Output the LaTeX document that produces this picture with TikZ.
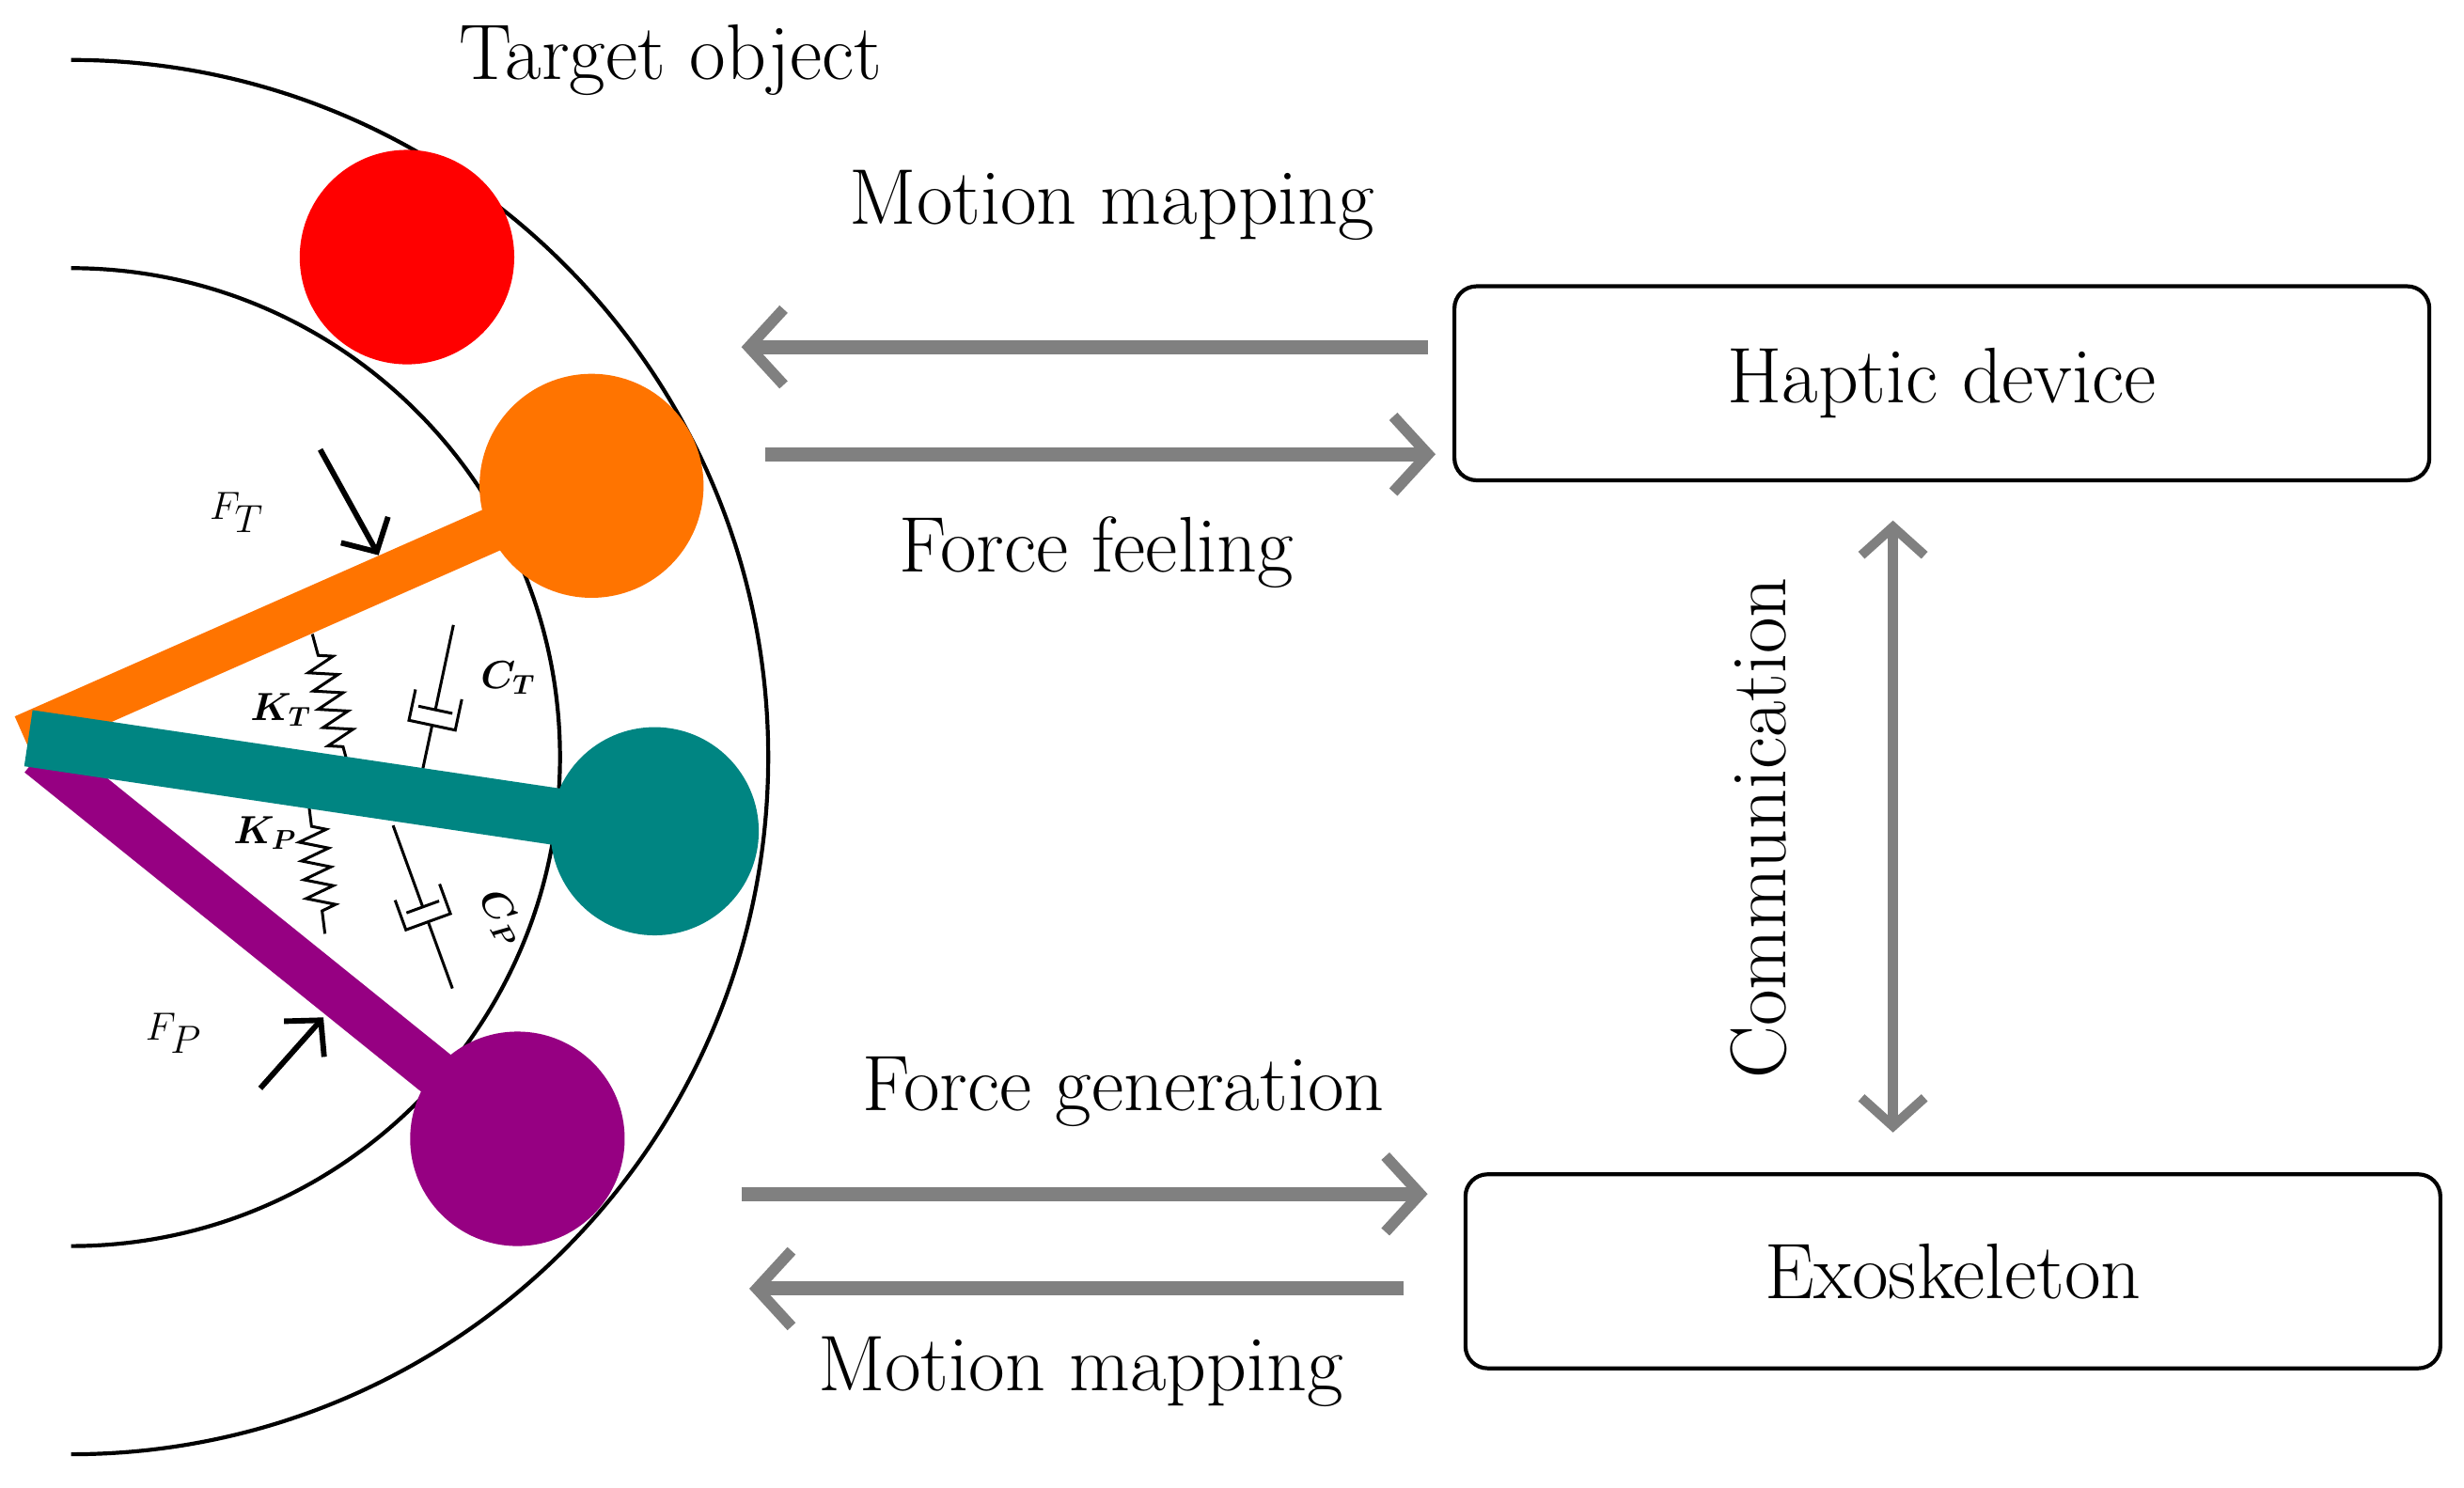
\documentclass[tikz,border=0pt]{standalone}
\usepackage{bm}
\usetikzlibrary{arrows.meta,decorations.pathmorphing}
\definecolor{gr}{RGB}{128,128,128}
\definecolor{orng}{RGB}{255,116,0}
\definecolor{teal2}{RGB}{0,133,130}
\definecolor{purp}{RGB}{150,0,130}
\begin{document}
\begin{tikzpicture}[x=1pt,y=-1pt,
  txt/.style={font=\fontsize{50}{58}\selectfont},
  sm/.style={font=\fontsize{26}{30}\selectfont},
  box/.style={draw,line width=2.5pt,rounded corners=14pt,minimum width=618pt,minimum height=123pt,font=\fontsize{50}{58}\selectfont},
  garr/.style={draw=gr,line width=9pt,-{Straight Barb[length=22pt,width=48pt,line width=7pt]}},
  karr/.style={line width=3.5pt,-{Straight Barb[length=16pt,width=34pt,line width=3.5pt]}},
  thin/.style={line width=1.8pt}]
\useasboundingbox (0,0) rectangle (1562,943);
% arcs
\draw[line width=2.5pt] (45,38) arc[start angle=-90,end angle=90,radius=442];
\draw[line width=2.5pt] (45,170) arc[start angle=-90,end angle=90,radius=310];
\node[txt] (tobj) at (425,38) {Target object};
% springs
\coordinate (s1a) at (198,402); \coordinate (s1b) at (222,490);
\draw[thin,decoration={zigzag,segment length=12pt,amplitude=9pt,pre length=14pt,post length=14pt},decorate] (s1a) -- (s1b);
\coordinate (s2a) at (196,512); \coordinate (s2b) at (206,592);
\draw[thin,decoration={zigzag,segment length=12pt,amplitude=9pt,pre length=12pt,post length=14pt},decorate] (s2a) -- (s2b);
% dampers
\begin{scope}[shift={(276,450)},rotate=-12]
 \draw[thin] (0,-55)--(0,0) (-11,0)--(11,0);
 \draw[thin] (-15,-10)--(-15,10)--(15,10)--(15,-10);
 \draw[thin] (0,10)--(0,48);
\end{scope}
\begin{scope}[shift={(268,575)},rotate=20]
 \draw[thin] (0,-55)--(0,0) (-11,0)--(11,0);
 \draw[thin] (-15,-10)--(-15,10)--(15,10)--(15,-10);
 \draw[thin] (0,10)--(0,55);
\end{scope}
\node[sm] (kt) at (178,450) {$\bm{K_T}$};
\node[sm] (kp) at (168,528) {$\bm{K_P}$};
\node[sm] (ct) at (322,430) {$\bm{C_T}$};
\node[sm,rotate=-60] (cp) at (318,582) {$\bm{C_P}$};
% bars and balls
\fill[red] (258,163) circle[radius=68];
\draw[orng,line width=28pt] (15,467) -- (375,308);
\fill[orng] (375,308) circle[radius=71];
\draw[purp,line width=30pt] (25,478) -- (328,722);
\fill[purp] (328,722) circle[radius=68];
\draw[teal2,line width=36pt] (18,468) -- (415,527);
\fill[teal2] (415,527) circle[radius=66];
% forces
\node[font=\fontsize{48}{56}\selectfont] (ft) at (150,325) {$F_T$};
\coordinate (fta) at (203,285); \coordinate (ftb) at (240,352);
\draw[karr] (fta) -- (ftb);
\node[font=\fontsize{48}{56}\selectfont] (fp) at (110,655) {$F_P$};
\coordinate (fpa) at (165,690); \coordinate (fpb) at (205,645);
\draw[karr] (fpa) -- (fpb);
% right side
\node[box] (hap) at (1231,243) {Haptic device};
\node[box] (exo) at (1238,806) {Exoskeleton};
\coordinate (a1s) at (905,220); \coordinate (a1e) at (470,220);
\coordinate (a2s) at (485,288); \coordinate (a2e) at (910,288);
\coordinate (a3s) at (470,757); \coordinate (a3e) at (905,757);
\coordinate (a4s) at (890,817); \coordinate (a4e) at (475,817);
\draw[garr] (a1s) -- (a1e);
\draw[garr] (a2s) -- (a2e);
\draw[garr] (a3s) -- (a3e);
\draw[garr] (a4s) -- (a4e);
\coordinate (c1) at (1200,330); \coordinate (c2) at (1200,718);
\draw[draw=gr,line width=7pt,{Straight Barb[length=18pt,width=40pt,line width=6pt]}-{Straight Barb[length=18pt,width=40pt,line width=6pt]}] (c1) -- (c2);
\node[txt] (mm1) at (705,130) {Motion mapping};
\node[txt] (ff) at (695,350) {Force feeling};
\node[txt] (fg) at (712,692) {Force generation};
\node[txt] (mm2) at (685,870) {Motion mapping};
\node[txt,rotate=90] (com) at (1115,525) {Communication};
\end{tikzpicture}
\end{document}
